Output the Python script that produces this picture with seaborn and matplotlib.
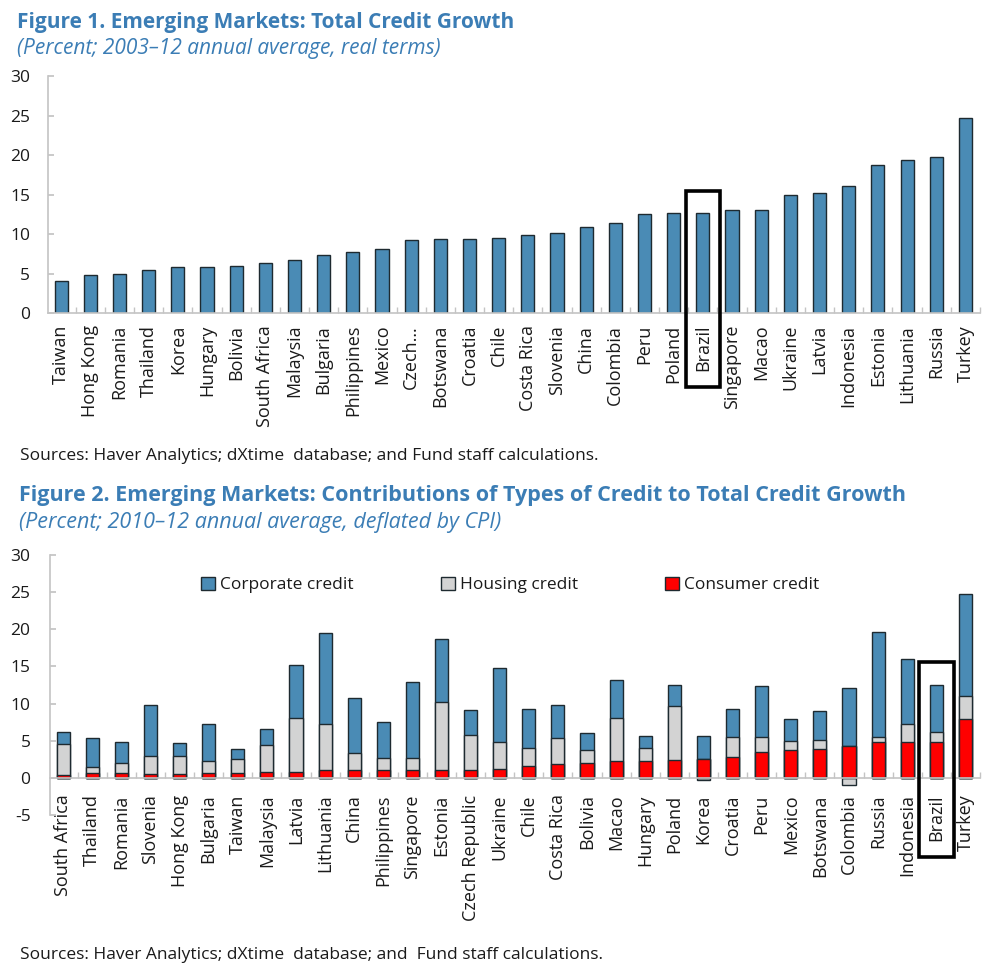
import matplotlib
matplotlib.use("Agg")
import matplotlib.pyplot as plt
import seaborn as sns
import numpy as np
from matplotlib.patches import Rectangle, Patch
from matplotlib import font_manager

# ---------------- Data ----------------
countries1 = ["Taiwan", "Hong Kong", "Romania", "Thailand", "Korea", "Hungary", "Bolivia",
              "South Africa", "Malaysia", "Bulgaria", "Philippines", "Mexico", "Czech…",
              "Botswana", "Croatia", "Chile", "Costa Rica", "Slovenia", "China", "Colombia",
              "Peru", "Poland", "Brazil", "Singapore", "Macao", "Ukraine", "Latvia",
              "Indonesia", "Estonia", "Lithuania", "Russia", "Turkey"]
growth1 = [4.1, 4.8, 4.9, 5.5, 5.8, 5.8, 6.0, 6.3, 6.7, 7.4, 7.7, 8.1, 9.2, 9.4, 9.4, 9.5,
           9.9, 10.1, 10.9, 11.4, 12.5, 12.7, 12.7, 13.0, 13.0, 15.0, 15.2, 16.1, 18.8,
           19.4, 19.8, 24.7]

countries2 = ["South Africa", "Thailand", "Romania", "Slovenia", "Hong Kong", "Bulgaria",
              "Taiwan", "Malaysia", "Latvia", "Lithuania", "China", "Philippines",
              "Singapore", "Estonia", "Czech Republic", "Ukraine", "Chile", "Costa Rica",
              "Bolivia", "Macao", "Hungary", "Poland", "Korea", "Croatia", "Peru", "Mexico",
              "Botswana", "Colombia", "Russia", "Indonesia", "Brazil", "Turkey"]
consumer = [0.4, 0.6, 0.6, 0.55, 0.55, 0.7, 0.7, 0.85, 0.85, 1.0, 1.0, 1.0, 1.0, 1.0, 1.0,
            1.2, 1.55, 1.8, 2.0, 2.25, 2.25, 2.4, 2.55, 2.75, 3.5, 3.7, 3.85, 4.25, 4.85,
            4.85, 4.85, 7.9]
housing = [4.1, 0.8, 1.4, 2.35, 2.35, 1.55, 1.8, 3.55, 7.25, 6.2, 2.3, 1.7, 1.7, 9.15, 4.75,
           3.65, 2.5, 3.55, 1.7, 5.85, 1.75, 7.25, -0.3, 2.75, 2.0, 1.3, 1.3, -0.9, 0.6,
           2.45, 1.35, 3.1]
corporate = [1.7, 4.0, 2.85, 6.9, 1.8, 4.95, 1.4, 2.2, 7.1, 12.25, 7.5, 4.85, 10.2, 8.55,
             3.35, 9.95, 5.2, 4.5, 2.3, 5.0, 1.6, 2.85, 3.05, 3.75, 6.8, 2.9, 3.9, 7.85,
             14.15, 8.7, 6.3, 13.8]
series_names = ["Corporate credit", "Housing credit", "Consumer credit"]
yticks1 = [0, 5, 10, 15, 20, 25, 30]
yticks2 = [-5, 0, 5, 10, 15, 20, 25, 30]
highlight = "Brazil"

# ---------------- Style ----------------
sns.set_theme(style="white")
avail = {f.name for f in font_manager.fontManager.ttflist}
base_font = "Open Sans" if "Open Sans" in avail else "DejaVu Sans"
plt.rcParams["font.family"] = [base_font, "DejaVu Sans"]

BLUE = "#4a8bb5"
GREY = "#d3d3d3"
RED = "#ff0000"
EDGE = "#1e2a30"
TITLE = "#3b7db5"
SPINE = "#c4c4c4"
TXT = "#1a1a1a"

fig = plt.figure(figsize=(10, 9.76), dpi=100)

ax1 = fig.add_axes([0.048, 0.6793, 0.932, 0.2428])
ax2 = fig.add_axes([0.050, 0.1650, 0.930, 0.2664])


def style_axis(ax, yticks, ylim, xpad, ypad):
    for s in ["top", "right"]:
        ax.spines[s].set_visible(False)
    for s in ["left", "bottom"]:
        ax.spines[s].set_color(SPINE)
        ax.spines[s].set_linewidth(1.2)
    ax.set_ylim(*ylim)
    ax.set_yticks(yticks)
    ax.set_yticklabels([str(t) for t in yticks], fontsize=12.5, color=TXT)
    ax.tick_params(axis="y", direction="in", length=4, color=SPINE, pad=ypad, left=True)
    ax.tick_params(axis="x", which="major", length=0, pad=xpad, labelsize=13, labelcolor=TXT,
                   rotation=90)
    n = len(ax.get_xticks())
    ax.set_xticks(np.arange(-0.5, n, 1.0), minor=True)
    ax.tick_params(axis="x", which="minor", direction="in", length=4, color=SPINE,
                   bottom=True)
    ax.set_xlim(-0.45, n - 0.5)
    ax.set_xlabel("")
    ax.set_ylabel("")
    ax.grid(False)


# ---------------- Figure 1 ----------------
sns.barplot(x=countries1, y=growth1, color=BLUE, width=0.45, edgecolor=EDGE,
            linewidth=1.0, saturation=1, ax=ax1)
style_axis(ax1, yticks1, (0, 30), xpad=8.5, ypad=13)

i1 = countries1.index(highlight)
ax1.add_patch(Rectangle((i1 - 0.57, -9.4), 1.17, growth1[i1] + 2.7 + 9.4, fill=False,
                        edgecolor="black", linewidth=2.6, clip_on=False, zorder=5))

# ---------------- Figure 2 ----------------
cons = np.array(consumer)
hous = np.array(housing)
corp = np.array(corporate)
hpos = np.clip(hous, 0, None)
hneg = np.clip(hous, None, 0)

sns.barplot(x=countries2, y=cons + hpos + corp, color=BLUE, width=0.45, edgecolor=EDGE,
            linewidth=1.0, saturation=1, ax=ax2)
sns.barplot(x=countries2, y=cons + hpos, color=GREY, width=0.45, edgecolor=EDGE,
            linewidth=1.0, saturation=1, ax=ax2)
sns.barplot(x=countries2, y=hneg, color=GREY, width=0.45, edgecolor=EDGE,
            linewidth=1.0, saturation=1, ax=ax2)
sns.barplot(x=countries2, y=cons, color=RED, width=0.45, edgecolor=EDGE,
            linewidth=1.0, saturation=1, ax=ax2)
style_axis(ax2, yticks2, (-5, 30), xpad=12, ypad=14)
ax2.spines["bottom"].set_position(("data", 0))

i2 = countries2.index(highlight)
top2 = cons[i2] + hpos[i2] + corp[i2]
ax2.add_patch(Rectangle((i2 - 0.58, -10.6), 1.19, top2 + 3.1 + 10.6, fill=False,
                        edgecolor="black", linewidth=2.6, clip_on=False, zorder=5))

handles = [Patch(facecolor=c, edgecolor=EDGE, linewidth=1.0, label=l)
           for c, l in zip([BLUE, GREY, RED], series_names)]
ax2.legend(handles=handles, loc="center", bbox_to_anchor=(0.495, 0.885), ncol=3,
           frameon=False, fontsize=12.5, handlelength=0.8, handleheight=0.8,
           handletextpad=0.3, columnspacing=5.0, labelcolor=TXT)

# ---------------- Texts ----------------
fig.text(0.017, 0.9713, "Figure 1. Emerging Markets: Total Credit Growth", fontsize=15,
         fontweight="bold", color=TITLE, va="baseline", ha="left")
fig.text(0.017, 0.9447, "(Percent; 2003–12 annual average, real terms)", fontsize=15,
         fontstyle="italic", color=TITLE, va="baseline", ha="left")
fig.text(0.020, 0.5287, "Sources: Haver Analytics; dXtime  database; and Fund staff calculations.",
         fontsize=12.5, color=TXT, va="baseline", ha="left")

fig.text(0.019, 0.4867, "Figure 2. Emerging Markets: Contributions of Types of Credit to Total Credit Growth",
         fontsize=15.5, fontweight="bold", color=TITLE, va="baseline", ha="left")
fig.text(0.019, 0.4590, "(Percent; 2010–12 annual average, deflated by CPI)", fontsize=15.5,
         fontstyle="italic", color=TITLE, va="baseline", ha="left")
fig.text(0.020, 0.0174, "Sources: Haver Analytics; dXtime  database; and  Fund staff calculations.",
         fontsize=12.5, color=TXT, va="baseline", ha="left")

fig.savefig("out.png", dpi=100, facecolor="white")
